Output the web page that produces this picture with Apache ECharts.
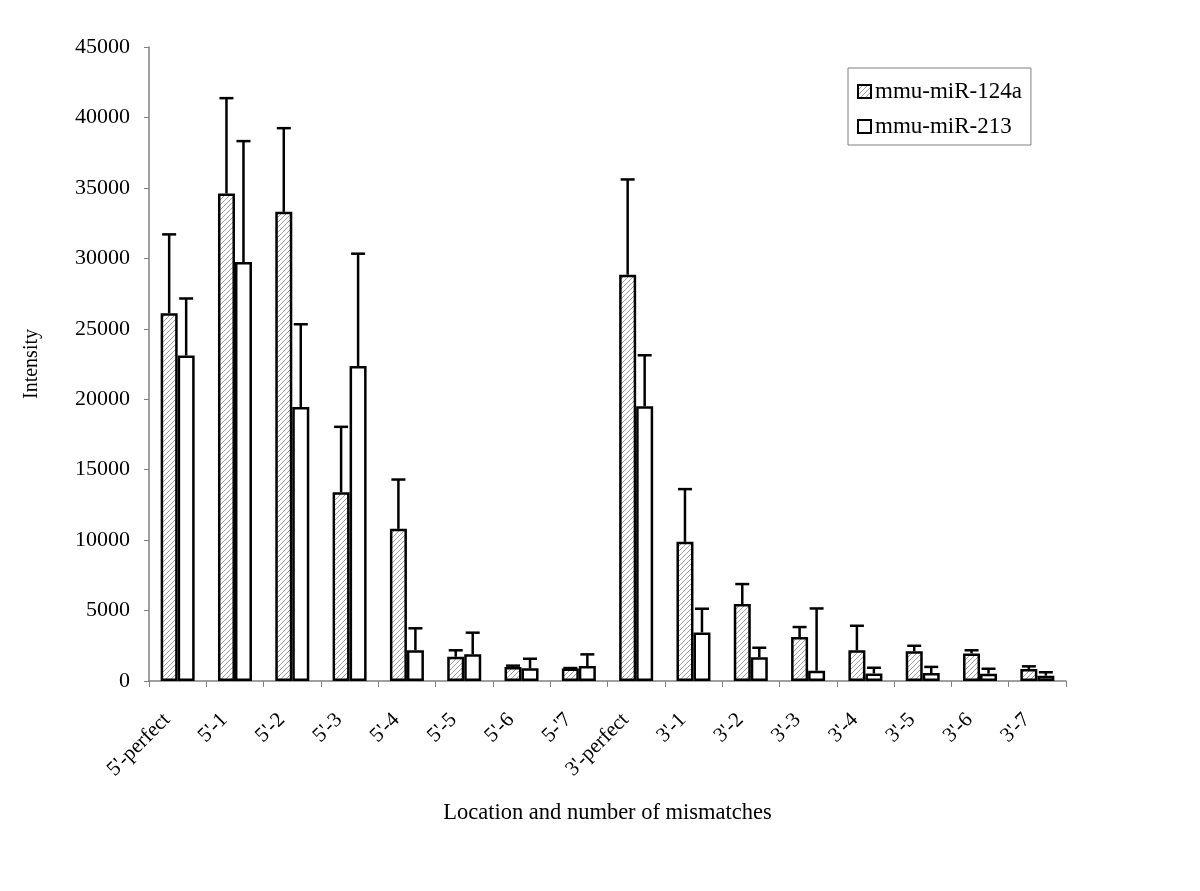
<!DOCTYPE html>
<html>
<head>
<meta charset="utf-8">
<script src="https://cdn.jsdelivr.net/npm/echarts@6/dist/echarts.min.js"></script>
<style>
html,body{margin:0;padding:0;background:#fff;}
#chart{width:1200px;height:891px;}
</style>
</head>
<body>
<div id="chart"></div>
<script>
const categories = ["5'-perfect","5'-1","5'-2","5'-3","5'-4","5'-5","5'-6","5-'7","3'-perfect","3'-1","3'-2","3'-3","3'-4","3'-5","3'-6","3'-7"];
const mir124a = [26100, 34600, 33300, 13400, 10800, 1720, 1000, 880, 28840, 9880, 5460, 3120, 2180, 2110, 1960, 850];
const err124a = [5600, 6770, 5940, 4640, 3500, 460, 90, 40, 6760, 3740, 1420, 710, 1740, 390, 220, 190];
const mir213 = [23100, 29740, 19450, 22360, 2180, 1890, 900, 1060, 19500, 3450, 1680, 730, 540, 570, 520, 380];
const err213 = [4050, 8580, 5870, 7970, 1560, 1540, 680, 830, 3620, 1680, 680, 4420, 400, 430, 350, 240];
const yTicks = [0, 5000, 10000, 15000, 20000, 25000, 30000, 35000, 40000, 45000];

const FONT = '"Liberation Serif", "DejaVu Serif", serif';

// hatch pattern
const pc = document.createElement('canvas');
pc.width = 5; pc.height = 5;
const g = pc.getContext('2d');
g.fillStyle = '#ffffff'; g.fillRect(0,0,5,5);
g.strokeStyle = '#a0a0a0'; g.lineWidth = 1;
g.beginPath();
g.moveTo(-1,6); g.lineTo(6,-1);
g.moveTo(-1,1); g.lineTo(1,-1);
g.moveTo(4,6); g.lineTo(6,4);
g.stroke();

const BW = 17;
function errSeries(vals, errs, offset) {
  return {
    type: 'custom',
    z: 5,
    silent: true,
    data: vals.map((v, i) => [i, v, errs[i]]),
    renderItem: function (params, api) {
      const i = api.value(0), m = api.value(1), e = api.value(2);
      const b = api.coord([i, m]);
      const t = api.coord([i, m + e]);
      const x = b[0] + offset;
      const st = { stroke: '#000', lineWidth: 2.5 };
      return { type: 'group', children: [
        { type: 'line', shape: { x1: x, y1: b[1], x2: x, y2: t[1] }, style: st },
        { type: 'line', shape: { x1: x - 7, y1: t[1], x2: x + 7, y2: t[1] }, style: st }
      ]};
    }
  };
}

const chart = echarts.init(document.getElementById('chart'), null, { renderer: 'canvas' });
chart.setOption({
  backgroundColor: '#fff',
  animation: false,
  textStyle: { fontFamily: FONT, color: '#000' },
  grid: { left: 149, right: 134, top: 47, bottom: 210, containLabel: false },
  legend: {
    data: ['mmu-miR-124a', 'mmu-miR-213'],
    orient: 'vertical',
    left: 848, top: 68,
    padding: [12, 9, 7, 9],
    itemGap: 12,
    icon: 'rect',
    itemWidth: 13, itemHeight: 13,
    borderColor: '#808080', borderWidth: 1,
    textStyle: { fontFamily: FONT, fontSize: 23, color: '#000', padding: [0,0,0,-1] }
  },
  xAxis: {
    type: 'category',
    data: categories,
    name: 'Location and number of mismatches',
    nameLocation: 'middle',
    nameGap: 121,
    nameTextStyle: { fontFamily: FONT, fontSize: 22.5, color: '#000' },
    axisLine: { lineStyle: { color: '#808080', width: 1.5 } },
    axisTick: { show: true, length: 6, lineStyle: { color: '#808080' }, alignWithLabel: false },
    axisLabel: { rotate: 45, interval: 0, fontFamily: FONT, fontSize: 21, color: '#000', margin: 25, padding: [0, 15, 0, 0] }
  },
  yAxis: {
    type: 'value',
    min: 0, max: 45000, interval: 5000,
    name: 'Intensity',
    nameLocation: 'middle',
    nameGap: 107,
    nameTextStyle: { fontFamily: FONT, fontSize: 20, color: '#000' },
    axisLine: { show: true, lineStyle: { color: '#808080', width: 1.5 } },
    axisTick: { show: true, length: 5, lineStyle: { color: '#808080' } },
    splitLine: { show: false },
    axisLabel: { fontFamily: FONT, fontSize: 22, color: '#000', margin: 19,
      formatter: v => yTicks.indexOf(v) >= 0 ? String(v) : '' }
  },
  series: [
    {
      name: 'mmu-miR-124a', type: 'bar', data: mir124a,
      barWidth: BW, barGap: '0%',
      itemStyle: { color: { image: pc, repeat: 'repeat' }, borderColor: '#000', borderWidth: 2.5 }
    },
    {
      name: 'mmu-miR-213', type: 'bar', data: mir213,
      barWidth: BW, barGap: '0%',
      itemStyle: { color: '#fff', borderColor: '#000', borderWidth: 2.5 }
    },
    errSeries(mir124a, err124a, -BW / 2),
    errSeries(mir213, err213, BW / 2)
  ]
});
</script>
</body>
</html>
